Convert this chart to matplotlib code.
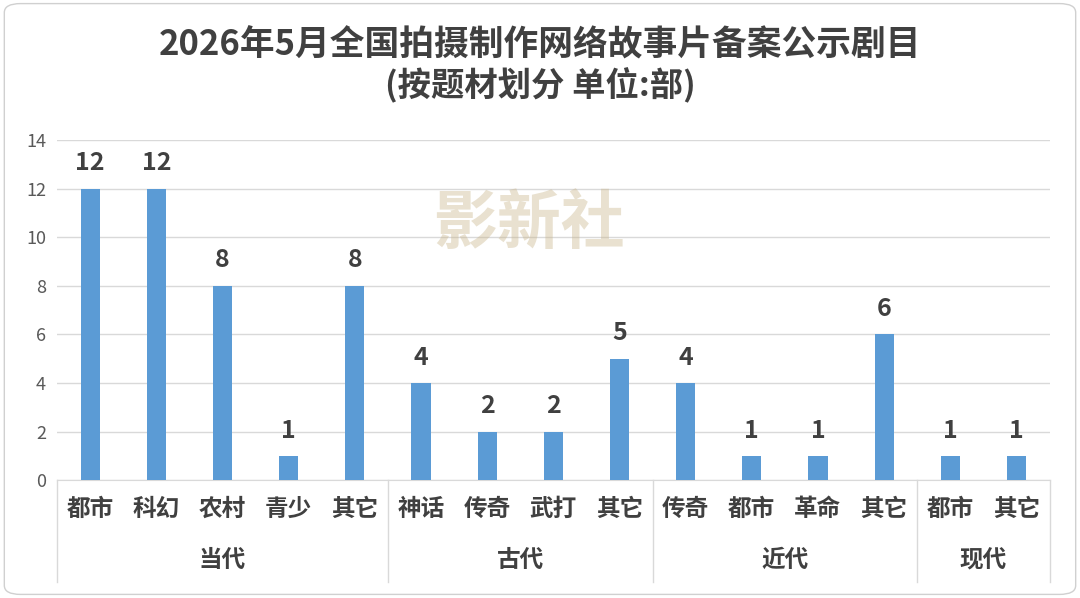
import matplotlib
matplotlib.use("Agg")
import matplotlib.pyplot as plt
from matplotlib.patches import FancyBboxPatch
from matplotlib.lines import Line2D

plt.rcParams['font.family'] = ['Noto Sans CJK SC', 'DejaVu Sans']

categories = ["都市", "科幻", "农村", "青少", "其它",
              "神话", "传奇", "武打", "其它",
              "传奇", "都市", "革命", "其它",
              "都市", "其它"]
values = [12, 12, 8, 1, 8, 4, 2, 2, 5, 4, 1, 1, 6, 1, 1]
groups = ["当代", "古代", "近代", "现代"]
group_sizes = [5, 4, 4, 2]

fig = plt.figure(figsize=(10.8, 5.98), dpi=100)
fig.patches.append(FancyBboxPatch((0.004, 0.006), 0.992, 0.988,
                                  boxstyle="round,pad=0,rounding_size=0.015",
                                  transform=fig.transFigure, fill=False,
                                  edgecolor="#d0d0d0", linewidth=1))

ax = fig.add_axes([0.0528, 0.197, 0.919, 0.569])
x = range(len(values))
ax.bar(x, values, width=0.29, color="#5B9BD5", zorder=3)
for i, v in zip(x, values):
    ax.text(i, v + 0.55, str(v), ha="center", va="bottom",
            fontsize=18, fontweight="bold", color="#404040")
ax.set_xlim(-0.5, len(values) - 0.5)
ax.set_ylim(0, 14)
ax.set_yticks(range(0, 15, 2))
ax.tick_params(axis="y", length=0, labelsize=13, labelcolor="#595959", pad=8)
ax.grid(axis="y", color="#d9d9d9", linewidth=1, zorder=0)
for s in ["top", "right", "left"]:
    ax.spines[s].set_visible(False)
ax.spines["bottom"].set_color("#d9d9d9")
ax.set_xticks(list(x))
ax.set_xticklabels(categories, fontsize=17, fontweight="bold", color="#404040")
ax.tick_params(axis="x", length=0, pad=12)

# group separators and labels
tr = ax.get_xaxis_transform()
start = 0
bounds = [-0.5]
for g, n in zip(groups, group_sizes):
    mid = start + (n - 1) / 2
    ax.text(mid, -0.235, g, transform=tr, ha="center", va="center",
            fontsize=17, fontweight="bold", color="#404040")
    start += n
    bounds.append(start - 0.5)
for b in bounds:
    ax.add_line(Line2D([b, b], [0, -0.30], transform=tr, color="#d9d9d9",
                       linewidth=1, clip_on=False))

# watermark
fig.text(0.49, 0.625, "影新社", ha="center", va="center", fontsize=46,
         color="#c8b58a", alpha=0.4, fontweight="bold", style="italic")

fig.text(0.5, 0.925, "2026年5月全国拍摄制作网络故事片备案公示剧目",
         ha="center", va="center", fontsize=25, fontweight="bold", color="#404040")
fig.text(0.5, 0.857, "(按题材划分 单位:部)",
         ha="center", va="center", fontsize=24, fontweight="bold", color="#404040")

fig.savefig("out.png", dpi=100)
